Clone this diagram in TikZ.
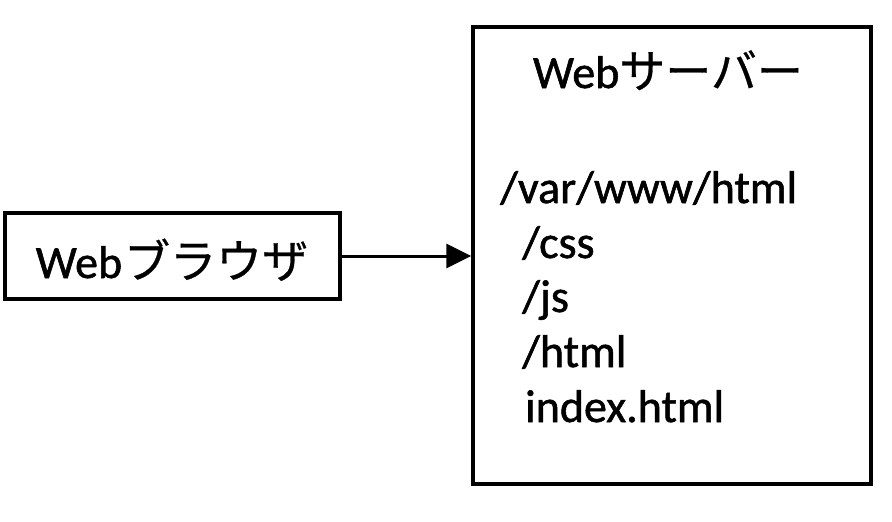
\documentclass[tikz,border=0pt]{standalone}
\usepackage{fontspec}
\setmainfont{Carlito}[FakeBold=1.2]
\newfontfamily\jpfont{Noto Sans CJK JP}[FakeBold=0.6]
\usetikzlibrary{arrows.meta}
\tikzset{
  boxline/.style={draw=black, line width=3.5pt},
  label/.style={inner sep=0pt, font=\fontsize{46}{55}\selectfont, anchor=base west},
  conn/.style={line width=3pt, -{Triangle[length=25pt,width=24pt]}}
}
\begin{document}
\begin{tikzpicture}[x=1pt,y=-1pt]
\useasboundingbox (0,0) rectangle (892,522);
\node[boxline, minimum width=335pt, minimum height=86pt, inner sep=0pt] (browser) at (172.5,256) {};
\node[label, anchor=base] (browsertxt) at (172,278) {Web\kern2pt{\jpfont ブラウザ}};
\node[boxline, minimum width=398pt, minimum height=457pt, inner sep=0pt] (server) at (672,255.5) {};
\node[label, anchor=base] (servertitle) at (668,88) {Web{\jpfont サーバー}};
\node[label] (l1) at (500,203) {/var/www/html};
\node[label] (l2) at (522,258) {/css};
\node[label] (l3) at (522,312) {/js};
\node[label] (l4) at (522,367) {/html};
\node[label] (l5) at (525,422) {index.html};
\draw[conn] (browser.east) -- (server.west |- browser.east);
\end{tikzpicture}
\end{document}
